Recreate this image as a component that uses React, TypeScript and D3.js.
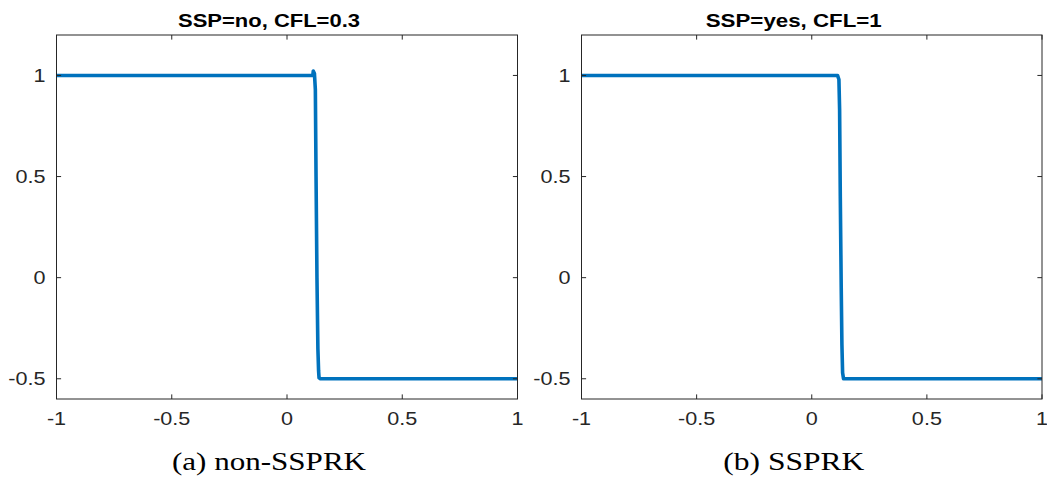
import React from "react";
import * as d3 from "d3";

const xTicks = [-1, -0.5, 0, 0.5, 1];
const yTicks = [-0.5, 0, 0.5, 1];
const xTickLabels = ["-1", "-0.5", "0", "0.5", "1"];
const yTickLabels = ["-0.5", "0", "0.5", "1"];

const nonSsprkX = [-1, 0.106, 0.112, 0.114, 0.119, 0.123, 0.126, 0.13, 0.134, 0.137, 0.139, 0.145, 1];
const nonSsprkY = [1, 1, 1, 1.022, 1.01, 0.93, 0.5, 0, -0.35, -0.46, -0.495, -0.5, -0.5];

const ssprkX = [-1, 0.112, 0.118, 0.121, 0.124, 0.128, 0.131, 0.134, 0.138, 1];
const ssprkY = [1, 1, 0.98, 0.83, 0.4, -0.05, -0.33, -0.47, -0.5, -0.5];

const panels = [
  { title: "SSP=no, CFL=0.3", caption: "(a) non-SSPRK", xs: nonSsprkX, ys: nonSsprkY, left: 56.5, right: 517.5, titleW: 182, capW: 194 },
  { title: "SSP=yes, CFL=1", caption: "(b) SSPRK", xs: ssprkX, ys: ssprkY, left: 581.5, right: 1042, titleW: 176, capW: 141 },
];

const TOP = 35;
const BOTTOM = 399;
const AXIS = "#262626";
const LINE = "#0072BD";

function Panel({ p }: { p: (typeof panels)[number] }) {
  const x = d3.scaleLinear().domain([-1, 1]).range([p.left, p.right]);
  const y = d3.scaleLinear().domain([-0.6, 1.2]).range([BOTTOM, TOP]);
  const pts: [number, number][] = p.xs.map((v, i) => [v, p.ys[i]]);
  const line = d3
    .line<[number, number]>()
    .x((d) => x(d[0]))
    .y((d) => y(d[1]));
  const tl = 4.6;
  const cx = (p.left + p.right) / 2 - 18;
  return (
    <g>
      <path d={line(pts) || ""} fill="none" stroke={LINE} strokeWidth={3.6} strokeLinejoin="round" strokeLinecap="butt" />
      <rect x={p.left} y={TOP} width={p.right - p.left} height={BOTTOM - TOP} fill="none" stroke={AXIS} strokeWidth={1} />
      {xTicks.map((t, i) => (
        <g key={"x" + i}>
          <line x1={x(t)} x2={x(t)} y1={BOTTOM} y2={BOTTOM - tl} stroke={AXIS} />
          <line x1={x(t)} x2={x(t)} y1={TOP} y2={TOP + tl} stroke={AXIS} />
          <text
            transform={`translate(${x(t)},425) scale(1.2,1)`}
            textAnchor="middle"
            fontFamily="Liberation Sans, Arial, sans-serif"
            fontSize={18}
            fill={AXIS}
          >
            {xTickLabels[i]}
          </text>
        </g>
      ))}
      {yTicks.map((t, i) => (
        <g key={"y" + i}>
          <line x1={p.left} x2={p.left + tl} y1={y(t)} y2={y(t)} stroke={AXIS} />
          <line x1={p.right} x2={p.right - tl} y1={y(t)} y2={y(t)} stroke={AXIS} />
          <text
            transform={`translate(${p.left - 11},${y(t) + 6.5}) scale(1.2,1)`}
            textAnchor="end"
            fontFamily="Liberation Sans, Arial, sans-serif"
            fontSize={18}
            fill={AXIS}
          >
            {yTickLabels[i]}
          </text>
        </g>
      ))}
      <text
        x={cx - p.titleW / 2}
        y={27}
        textLength={p.titleW}
        lengthAdjust="spacingAndGlyphs"
        fontFamily="Liberation Sans, Arial, sans-serif"
        fontWeight="bold"
        fontSize={19}
        fill="#000"
      >
        {p.title}
      </text>
      <text
        x={cx - p.capW / 2}
        y={470}
        textLength={p.capW}
        lengthAdjust="spacingAndGlyphs"
        fontFamily="Liberation Serif, Times New Roman, serif"
        fontSize={25}
        fill="#000"
      >
        {p.caption}
      </text>
    </g>
  );
}

export default function App() {
  return (
    <svg
      width={1047}
      height={478}
      viewBox="0 0 1047 478"
      style={{ position: "absolute", left: 0, top: 0, background: "#fff" }}
    >
      <rect x={0} y={0} width={1047} height={478} fill="#fff" />
      {panels.map((p, i) => (
        <Panel key={i} p={p} />
      ))}
    </svg>
  );
}
